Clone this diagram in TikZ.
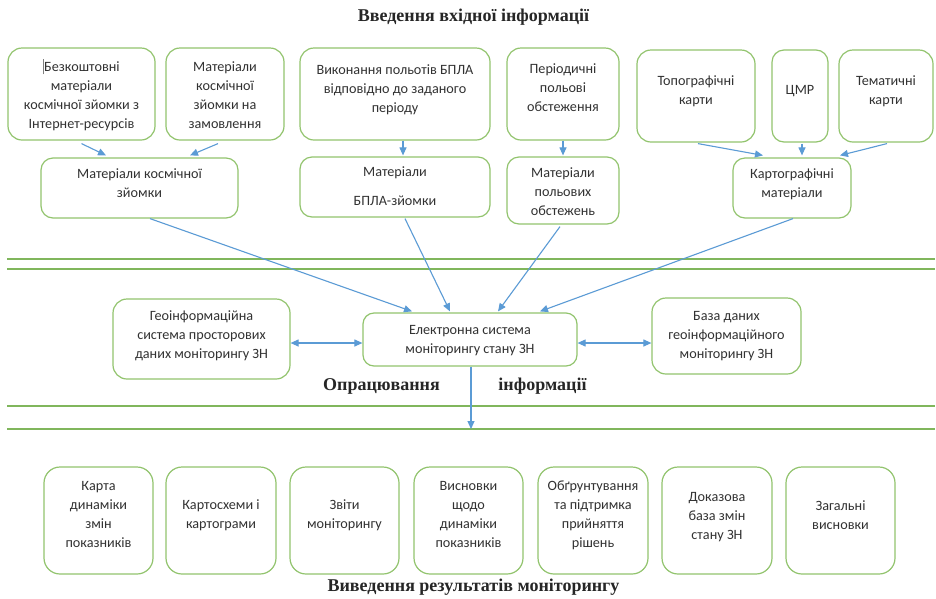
\documentclass[tikz,border=0pt]{standalone}
\usepackage{fontspec}
\setmainfont{Liberation Serif}
\newfontfamily\boxfont{Carlito}
\usetikzlibrary{arrows.meta}
\definecolor{bgreen}{RGB}{146,196,110}
\definecolor{lgreen}{RGB}{128,182,92}
\definecolor{ablue}{RGB}{91,155,213}
\definecolor{btext}{RGB}{50,50,50}
\newcommand\bxt[2]{\raisebox{#1}[\height][\depth]{\begin{tabular}{@{}c@{}}#2\end{tabular}}}
\begin{document}
\begin{tikzpicture}[x=1pt,y=-1pt,
 box/.style={draw=bgreen,line width=1.2pt,rounded corners=14pt,fill=white,
   font=\boxfont\fontsize{14.2}{18.9}\selectfont,text=btext,inner sep=0pt},
 arr/.style={draw=ablue,line width=1.1pt,-{Triangle[length=8pt,width=7pt]}},
 darr/.style={draw=ablue,line width=1.1pt,{Triangle[length=8pt,width=7pt]}-{Triangle[length=8pt,width=7pt]}},
 sepline/.style={draw=lgreen,line width=1.4pt},
 ttl/.style={font=\bfseries\fontsize{18}{21}\selectfont,text=black!85,inner sep=0pt}]
\useasboundingbox[fill=white] (0,0) rectangle (936,598);

% titles
\node[ttl] (t1) at (473.5,17) {Введення вхідної інформації};
\node[ttl] (t2a) at (381.5,386) {Опрацювання};
\node[ttl] (t2b) at (542.5,386) {інформації};
\node[ttl] (t3) at (473.5,587) {Виведення результатів моніторингу};

% separators
\draw[sepline] (7,259) -- (935,259);
\draw[sepline] (7,269) -- (935,269);
\draw[sepline] (7,406) -- (935,406);
\draw[sepline] (7,429) -- (935,429);

% row 1
\node[box,minimum width=147pt,minimum height=92pt] (A) at (81.5,94)
 {\bxt{-2pt}{\textcolor{gray}{\rule[-3pt]{0.9pt}{15pt}}Безкоштовні\\матеріали\\космічної зйомки з\\Інтернет-ресурсів}};
\node[box,minimum width=118pt,minimum height=92pt] (B) at (225,94)
 {\bxt{-2pt}{Матеріали\\космічної\\зйомки на\\замовлення}};
\node[box,minimum width=190pt,minimum height=92pt] (C) at (395,94)
 {\bxt{4pt}{Виконання польотів БПЛА\\відповідно до заданого\\періоду}};
\node[box,minimum width=112pt,minimum height=92pt] (D) at (563,94)
 {\bxt{5pt}{Періодичні\\польові\\обстеження}};
\node[box,minimum width=118pt,minimum height=92pt] (E) at (696,96)
 {\bxt{5pt}{Топографічні\\карти}};
\node[box,minimum width=56pt,minimum height=92pt,rounded corners=12pt] (F) at (800,96)
 {\bxt{5pt}{ЦМР}};
\node[box,minimum width=94pt,minimum height=92pt] (G) at (886,96)
 {\bxt{5pt}{Тематичні\\карти}};

% row 2
\node[box,minimum width=197pt,minimum height=60pt,rounded corners=12pt] (H) at (139.5,188)
 {\bxt{3.5pt}{Матеріали космічної\\зйомки}};
\node[box,minimum width=190pt,minimum height=60pt,rounded corners=12pt] (I) at (395,187)
 {\bxt{0pt}{Матеріали\\[10pt]БПЛА-зйомки}};
\node[box,minimum width=112pt,minimum height=67pt,rounded corners=12pt] (J) at (563,190.5)
 {\bxt{-2.5pt}{Матеріали\\польових\\обстежень}};
\node[box,minimum width=118pt,minimum height=60pt,rounded corners=12pt] (K) at (792,188)
 {\bxt{3.5pt}{Картографічні\\матеріали}};

% middle
\node[box,minimum width=177pt,minimum height=80pt] (L) at (201.5,339)
 {\bxt{3pt}{Геоінформаційна\\система просторових\\даних моніторингу ЗН}};
\node[box,minimum width=214pt,minimum height=53pt,rounded corners=11pt] (M) at (470,339.5)
 {\bxt{-1pt}{Електронна система\\моніторингу стану ЗН}};
\node[box,minimum width=149pt,minimum height=76pt] (N) at (726.5,336)
 {\bxt{0pt}{База даних\\геоінформаційного\\моніторингу ЗН}};

% bottom
\node[box,minimum width=109pt,minimum height=107pt,rounded corners=16pt] (b1) at (98.5,520.5)
 {\bxt{5pt}{Карта\\динаміки\\змін\\показників}};
\node[box,minimum width=110pt,minimum height=107pt,rounded corners=16pt] (b2) at (221,520.5)
 {\bxt{5pt}{Картосхеми і\\картограми}};
\node[box,minimum width=109pt,minimum height=107pt,rounded corners=16pt] (b3) at (344.5,520.5)
 {\bxt{5pt}{Звіти\\моніторингу}};
\node[box,minimum width=109pt,minimum height=107pt,rounded corners=16pt] (b4) at (468.5,520.5)
 {\bxt{5pt}{Висновки\\щодо\\динаміки\\показників}};
\node[box,minimum width=110pt,minimum height=107pt,rounded corners=16pt] (b5) at (593,520.5)
 {\bxt{5pt}{Обґрунтування\\та підтримка\\прийняття\\рішень}};
\node[box,minimum width=110pt,minimum height=107pt,rounded corners=16pt] (b6) at (717,520.5)
 {\bxt{4pt}{Доказова\\база змін\\стану ЗН}};
\node[box,minimum width=109pt,minimum height=107pt,rounded corners=16pt] (b7) at (840.5,520.5)
 {\bxt{4pt}{Загальні\\висновки}};

% arrows row1 -> row2
\draw[arr] ([yshift=-3pt]A.south) -- ([xshift=-33.5pt,yshift=2pt]H.north);
\draw[arr] ([xshift=-7pt,yshift=-3pt]B.south) -- ([xshift=50.5pt,yshift=2pt]H.north);
\draw[arr] ([xshift=8pt]C.south) -- ([xshift=8pt,yshift=1pt]I.north);
\draw[arr] (D.south) -- ([yshift=1pt]J.north);
\draw[arr] ([xshift=2pt,yshift=-1pt]E.south) -- ([xshift=-29pt,yshift=2pt]K.north);
\draw[arr] ([xshift=2pt,yshift=-1pt]F.south) -- ([xshift=10pt,yshift=2pt]K.north);
\draw[arr] ([xshift=1pt,yshift=-1pt]G.south) -- ([xshift=48pt,yshift=2pt]K.north);

% arrows row2 -> M
\draw[arr] ([xshift=10.5pt]H.south) -- ([xshift=-58pt,yshift=1pt]M.north);
\draw[arr] ([xshift=10pt,yshift=-1pt]I.south) -- ([xshift=-20pt,yshift=1pt]M.north);
\draw[arr] ([xshift=-3pt,yshift=-2pt]J.south) -- ([xshift=28pt,yshift=1pt]M.north);
\draw[arr] ([xshift=1pt]K.south) -- ([xshift=70pt,yshift=1pt]M.north);

% side arrows
\draw[darr] ([yshift=-4pt]L.east) -- ([yshift=-3.5pt]M.west);
\draw[darr] ([yshift=-3.5pt]M.east) -- ([yshift=-7pt]N.west);

% down arrow
\coordinate (mdown) at (471,429);
\draw[arr] ([xshift=1pt]M.south) -- (mdown);
\end{tikzpicture}
\end{document}
